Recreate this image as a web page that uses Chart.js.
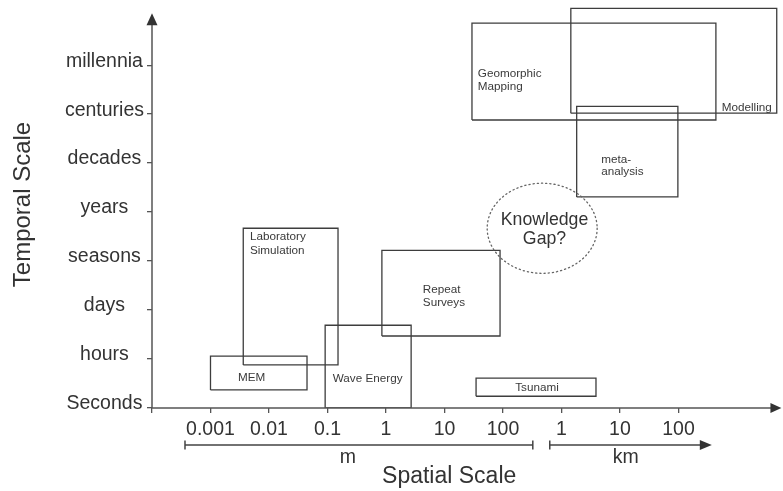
<!DOCTYPE html>
<html>
<head>
<meta charset="utf-8">
<script src="https://cdn.jsdelivr.net/npm/chart.js@4.4.0/dist/chart.umd.min.js"></script>
<style>
  html, body { margin: 0; padding: 0; background: #ffffff; }
  canvas { display: block; }
</style>
</head>
<body>
<canvas id="c" width="783" height="491"></canvas>
<script>
// ---- data (axis units: x = spatial step index, y = temporal step index) ----
const yTickLabels = ['Seconds', 'hours', 'days', 'seasons', 'years', 'decades', 'centuries', 'millennia'];
const xTickLabels = ['', '0.001', '0.01', '0.1', '1', '10', '100', '1', '10', '100'];

const boxNames = ['MEM', 'Laboratory Simulation', 'Wave Energy', 'Repeat Surveys', 'Tsunami', 'Geomorphic Mapping', 'Modelling', 'meta-analysis'];
const boxX0 = [1.00, 1.56, 2.96, 3.93, 5.54, 5.47, 7.16, 7.26];
const boxX1 = [2.65, 3.18, 4.43, 5.95, 7.59, 9.64, 10.68, 8.99];
const boxY0 = [0.37, 0.88, 0.00, 1.47, 0.24, 5.88, 6.02, 4.31];
const boxY1 = [1.06, 3.67, 1.69, 3.22, 0.61, 7.86, 8.16, 6.16];

const labelText = ['MEM', 'Laboratory', 'Simulation', 'Wave Energy', 'Repeat', 'Surveys', 'Tsunami', 'Geomorphic', 'Mapping', 'Modelling', 'meta-', 'analysis'];
const labelX = [1.47, 1.675, 1.675, 3.09, 4.63, 4.63, 6.21, 5.57, 5.57, 9.74, 7.68, 7.68];
const labelY = [0.55, 3.42, 3.15, 0.54, 2.34, 2.08, 0.35, 6.76, 6.49, 6.06, 5.01, 4.76];

const gapText = ['Knowledge', 'Gap?'];
const gapCenter = [6.67, 3.67];
const gapRadius = [0.94, 0.92];
const gapTextX = [6.71, 6.71];
const gapTextY = [3.735, 3.347];

const unitNames = ['m', 'km'];
const unitFrom = [0.564, 6.80];
const unitTo = [6.51, 9.57];
const unitLabelX = [3.35, 8.10];
const xTitle = 'Spatial Scale';
const xTitleX = 5.08;
const yTitle = 'Temporal Scale';

// ---- drawing ----
const FONT = "'Liberation Sans', Arial, Helvetica, sans-serif";
Chart.defaults.font.family = FONT;

const decor = {
  id: 'decor',
  afterDatasetsDraw(chart) {
    const ctx = chart.ctx;
    const xs = chart.scales.x, ys = chart.scales.y;
    const X = v => xs.getPixelForValue(v);
    const Y = v => ys.getPixelForValue(v);
    ctx.save();

    // box labels
    ctx.fillStyle = '#3a3a3a';
    ctx.font = '11.7px ' + FONT;
    ctx.textAlign = 'left';
    ctx.textBaseline = 'alphabetic';
    labelText.forEach((t, i) => ctx.fillText(t, X(labelX[i]), Y(labelY[i])));

    // knowledge gap ellipse
    const cx = X(gapCenter[0]), cy = Y(gapCenter[1]);
    const rx = Math.abs(X(gapCenter[0] + gapRadius[0]) - cx);
    const ry = Math.abs(Y(gapCenter[1] + gapRadius[1]) - cy);
    ctx.beginPath();
    ctx.setLineDash([1.2, 3.0]);
    ctx.lineCap = 'round';
    ctx.lineWidth = 1.3;
    ctx.strokeStyle = '#666';
    ctx.ellipse(cx, cy, rx, ry, 0, 0, Math.PI * 2);
    ctx.stroke();
    ctx.setLineDash([]);
    ctx.lineCap = 'butt';
    ctx.fillStyle = '#333';
    ctx.font = '17.7px ' + FONT;
    ctx.textAlign = 'center';
    gapText.forEach((t, i) => ctx.fillText(t, X(gapTextX[i]), Y(gapTextY[i])));

    // axis lines with arrows
    const ox = X(0), oy = Y(0);
    const axTop = Y(8.06), axRight = X(10.76);
    ctx.strokeStyle = '#555';
    ctx.fillStyle = '#333';
    ctx.lineWidth = 1.5;
    ctx.beginPath();
    ctx.moveTo(ox, oy); ctx.lineTo(ox, axTop + 10);
    ctx.moveTo(ox, oy); ctx.lineTo(axRight - 9, oy);
    ctx.stroke();
    ctx.beginPath();
    ctx.moveTo(ox, axTop); ctx.lineTo(ox - 5.5, axTop + 12); ctx.lineTo(ox + 5.5, axTop + 12); ctx.closePath();
    ctx.fill();
    ctx.beginPath();
    ctx.moveTo(axRight, oy); ctx.lineTo(axRight - 11, oy - 5); ctx.lineTo(axRight - 11, oy + 5); ctx.closePath();
    ctx.fill();

    // unit bars below the axis
    const barY = oy + 37;
    ctx.lineWidth = 1.5;
    ctx.strokeStyle = '#444';
    ctx.beginPath();
    ctx.moveTo(X(unitFrom[0]), barY); ctx.lineTo(X(unitTo[0]), barY);
    ctx.moveTo(X(unitFrom[0]), barY - 4.5); ctx.lineTo(X(unitFrom[0]), barY + 4.5);
    ctx.moveTo(X(unitTo[0]), barY - 4.5); ctx.lineTo(X(unitTo[0]), barY + 4.5);
    ctx.moveTo(X(unitFrom[1]), barY); ctx.lineTo(X(unitTo[1]) - 8, barY);
    ctx.moveTo(X(unitFrom[1]), barY - 4.5); ctx.lineTo(X(unitFrom[1]), barY + 4.5);
    ctx.stroke();
    ctx.beginPath();
    ctx.moveTo(X(unitTo[1]), barY); ctx.lineTo(X(unitTo[1]) - 12, barY - 5); ctx.lineTo(X(unitTo[1]) - 12, barY + 5); ctx.closePath();
    ctx.fill();

    ctx.fillStyle = '#333';
    ctx.font = '19.5px ' + FONT;
    ctx.textAlign = 'center';
    unitNames.forEach((t, i) => ctx.fillText(t, X(unitLabelX[i]), oy + 55));

    ctx.font = '23px ' + FONT;
    ctx.fillText(xTitle, X(xTitleX), oy + 75);
    ctx.restore();
  }
};

const datasets = boxNames.map((name, i) => ({
  label: name,
  data: [
    { x: boxX0[i], y: boxY0[i] },
    { x: boxX1[i], y: boxY0[i] },
    { x: boxX1[i], y: boxY1[i] },
    { x: boxX0[i], y: boxY1[i] },
    { x: boxX0[i], y: boxY0[i] }
  ],
  showLine: true,
  fill: false,
  tension: 0,
  borderColor: '#3d3d3d',
  borderWidth: 1.3,
  borderJoinStyle: 'miter',
  pointRadius: 0,
  pointHoverRadius: 0
}));

new Chart(document.getElementById('c'), {
  type: 'scatter',
  data: { datasets },
  options: {
    responsive: false,
    animation: false,
    layout: { padding: { top: 1, right: 1, left: 0, bottom: 0 } },
    plugins: { legend: { display: false }, tooltip: { enabled: false } },
    scales: {
      x: {
        type: 'linear',
        min: 0,
        max: 10.77,
        afterBuildTicks: s => { s.ticks = xTickLabels.map((_, i) => ({ value: i })); },
        afterFit: s => { s.height = 83; s.paddingLeft = 0; s.paddingRight = 0; },
        grid: { display: true, drawOnChartArea: false, drawTicks: true, tickLength: 5, color: '#555', lineWidth: 1.3 },
        border: { display: false },
        ticks: {
          autoSkip: false, maxRotation: 0, padding: 5,
          color: '#333', font: { size: 19.5 },
          callback: (v, i) => xTickLabels[i]
        }
      },
      y: {
        type: 'linear',
        min: 0,
        max: 8.31,
        afterBuildTicks: s => { s.ticks = yTickLabels.map((_, i) => ({ value: i })); },
        afterFit: s => { s.width = 152; s.paddingTop = 0; s.paddingBottom = 0; },
        grid: { display: true, drawOnChartArea: false, drawTicks: true, tickLength: 5, color: '#555', lineWidth: 1.3 },
        border: { display: false },
        title: { display: true, text: yTitle, color: '#333', font: { size: 24 }, padding: { top: 9, bottom: 0 } },
        ticks: {
          autoSkip: false, padding: 3, crossAlign: 'center', labelOffset: -4,
          color: '#333', font: { size: 19.5 },
          callback: (v, i) => yTickLabels[i]
        }
      }
    }
  },
  plugins: [decor]
});
</script>
</body>
</html>
